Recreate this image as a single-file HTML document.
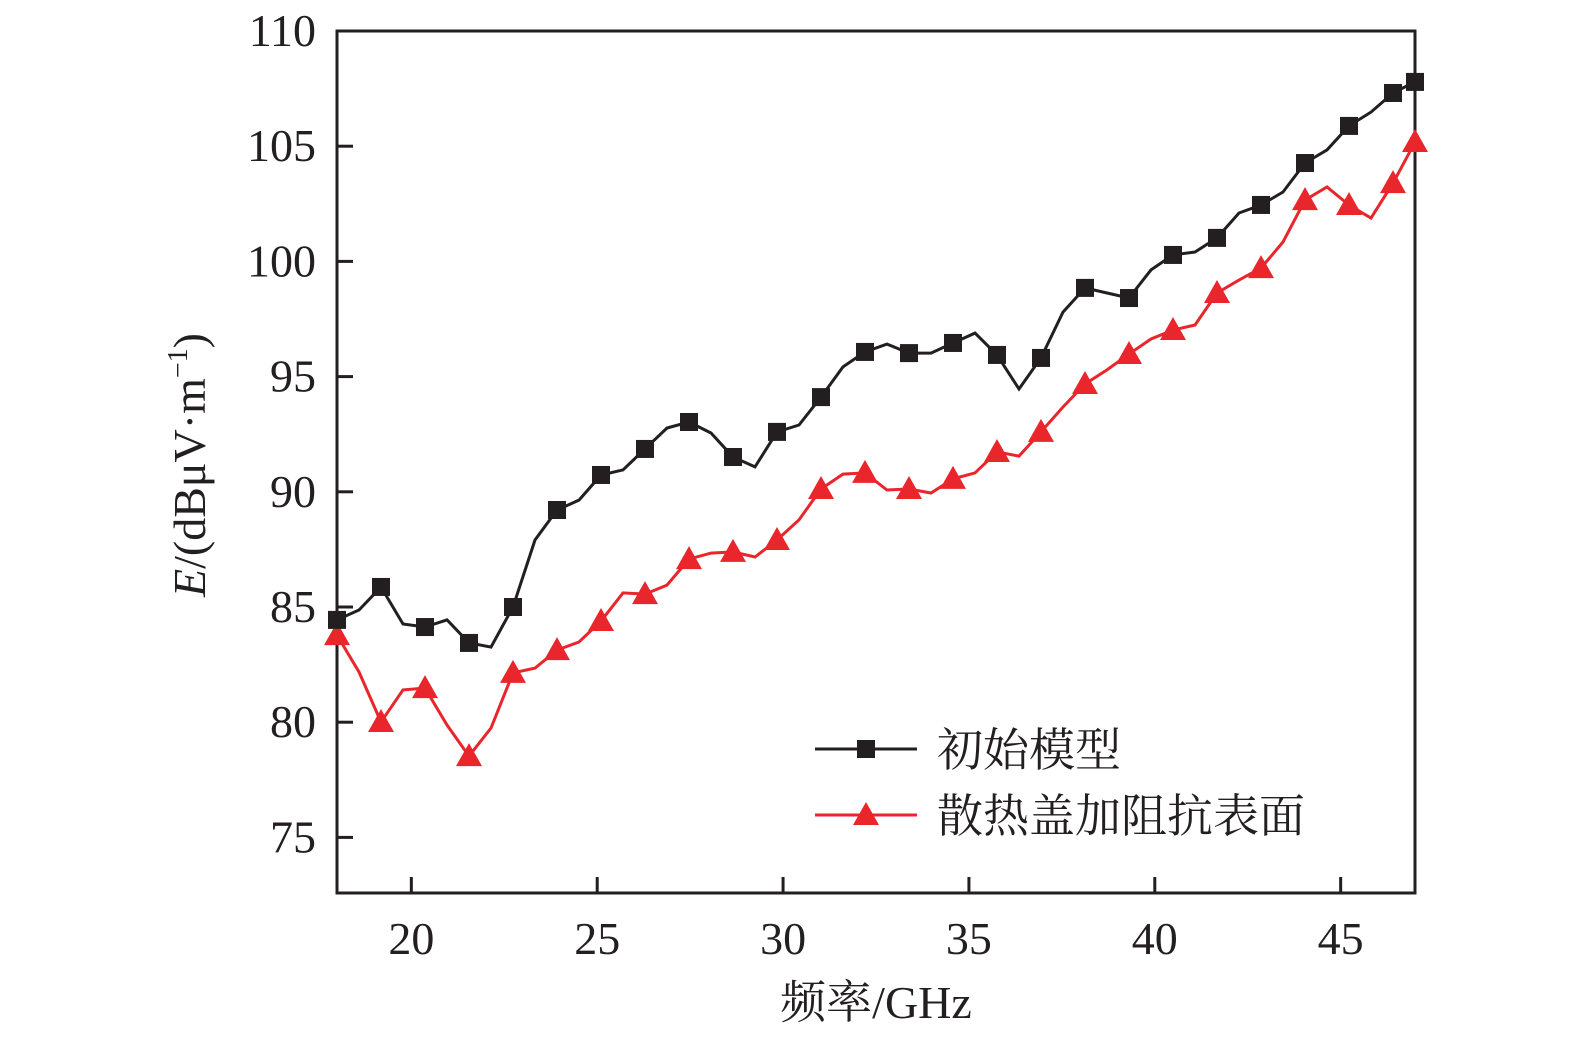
<!DOCTYPE html>
<html><head><meta charset="utf-8"><style>
html,body{margin:0;padding:0;background:#fff;}
svg{display:block;}
text{font-family:"Liberation Serif","Noto Serif CJK SC",serif;fill:#231f20;}
</style></head><body>
<svg id="chart" width="1575" height="1043" viewBox="0 0 1575 1043" xmlns="http://www.w3.org/2000/svg">
<g id="axes"></g>
<g id="series"></g>
<g id="legend">
  <line x1="815" y1="749" x2="917" y2="749" stroke="#231f20" stroke-width="3"/>
  <rect x="857" y="740" width="18" height="18" fill="#231f20"/>
  <text x="937" y="766" font-size="46">初始模型</text>
  <line x1="815" y1="815" x2="917" y2="815" stroke="#e8262b" stroke-width="3"/>
  <polygon points="866,802 879,825 853,825" fill="#e8262b"/>
  <text x="937" y="832" font-size="46">散热盖加阻抗表面</text>
</g>
</svg>
<script>
const xTicks=[20,25,30,35,40,45];
const yTicks=[75,80,85,90,95,100,105,110];
const initialModel=[84.44,84.87,85.87,84.26,84.13,84.44,83.44,83.26,85.0,87.91,89.21,89.64,90.73,90.95,91.86,92.77,93.03,92.55,91.51,91.08,92.6,92.9,94.11,95.42,96.07,96.41,96.02,96.02,96.46,96.89,95.94,94.46,95.81,97.8,98.85,98.63,98.41,99.63,100.28,100.41,101.02,102.1,102.45,103.01,104.27,104.84,105.88,106.48,107.31,107.79];
const impedanceSurface=[83.78,82.18,80.01,81.4,81.48,79.88,78.53,79.75,82.14,82.35,83.13,83.48,84.39,85.61,85.56,85.95,87.08,87.34,87.39,87.17,87.91,88.78,90.12,90.77,90.82,90.08,90.12,89.95,90.56,90.82,91.73,91.55,92.6,93.68,94.68,95.29,95.98,96.63,97.02,97.24,98.63,99.19,99.71,100.84,102.66,103.23,102.45,101.88,103.4,105.18];
const xMin=18,xMax=47;
const NS="http://www.w3.org/2000/svg";
const L=337,R=1415,T=31,B=893;
function xs(v){return L+(v-xMin)/(xMax-xMin)*(R-L);}
function ys(v){return 31+(110-v)*(115.2/5);}
function freq(i,n){return xMin+i*(xMax-xMin)/(n-1);}
function mk(tag,attrs,parent){const e=document.createElementNS(NS,tag);for(const k in attrs)e.setAttribute(k,attrs[k]);parent.appendChild(e);return e;}
const ax=document.getElementById('axes');
const frame=mk('rect',{x:L,y:T,width:R-L,height:B-T,fill:'none',stroke:'#231f20','stroke-width':3},ax);


xTicks.forEach(v=>{
  const t=mk('line',{x1:xs(v),x2:xs(v),y1:B,y2:B-16,stroke:'#231f20','stroke-width':3},ax);
  
  
  const l=mk('text',{x:xs(v),y:954,'font-size':46,'text-anchor':'middle'},ax);
  l.textContent=v;
  
  
});
yTicks.forEach(v=>{
  const t=mk('line',{x1:L,x2:L+16,y1:ys(v),y2:ys(v),stroke:'#231f20','stroke-width':3},ax);
  
  
  const l=mk('text',{x:316,y:ys(v)+15,'font-size':46,'text-anchor':'end'},ax);
  l.textContent=v;
  
  
});
const xt=mk('text',{x:876,y:1018,'font-size':46,'text-anchor':'middle'},ax);
xt.textContent='频率/GHz';


const yt=mk('text',{x:0,y:0,'font-size':46,'text-anchor':'middle',transform:'translate(205,465) rotate(-90)'},ax);
yt.innerHTML='<tspan font-style="italic">E</tspan>/(dBμV·m<tspan font-size="28" dy="-18">−1</tspan><tspan dy="18">)</tspan>';


const sg=document.getElementById('series');
function drawSeries(data,color,name,marker){
  const n=data.length;
  const pts=data.map((v,i)=>xs(freq(i,n)).toFixed(1)+','+ys(v).toFixed(1)).join(' ');
  const pl=mk('polyline',{points:pts,fill:'none',stroke:color,'stroke-width':3,'stroke-linejoin':'miter'},sg);
  
  
  data.forEach((v,i)=>{
    if(i%2!==0&&i!==n-1)return;
    const x=xs(freq(i,n)),y=ys(v);
    let m;
    if(marker==='square'){m=mk('rect',{x:x-9,y:y-9,width:18,height:18,fill:color},sg);}
    else{m=mk('polygon',{points:`${x},${y-13} ${x+13},${y+10} ${x-13},${y+10}`,fill:color},sg);}
    
    
  });
}
drawSeries(impedanceSurface,'#e8262b','impedance-surface','triangle');
drawSeries(initialModel,'#231f20','initial-model','square');
</script>
</body></html>
